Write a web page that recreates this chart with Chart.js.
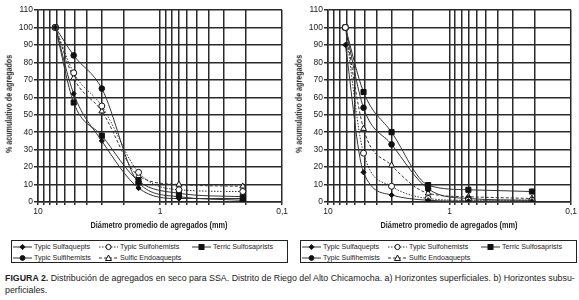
<!DOCTYPE html>
<html lang="es">
<head>
  <meta charset="UTF-8" />
  <meta name="viewport" content="width=device-width, initial-scale=1.0"/>
  <title>Distribución de agregados en seco</title>
  <script src="https://cdn.jsdelivr.net/npm/chart.js"></script>
  <style>
    body { margin: 0; background: #fff; font-family: "Liberation Sans", Arial, sans-serif; color: #222; }
    #page { position: relative; width: 579px; height: 300px; overflow: hidden; }
    .panel { position: absolute; top: 0; height: 235px; }
    .legend { position: absolute; top: 240px; height: 23px; border: 1px solid #222; box-sizing: border-box; }
    .item { position: absolute; font-size: 8px; line-height: 10px; white-space: nowrap; }
    .item svg { position: absolute; left: 0; top: 1px; }
    .item span { position: absolute; left: 21px; top: 0; transform-origin: 0 50%; }
    .axis-title { position: absolute; font-weight: bold; white-space: nowrap; line-height: 1; }
    .caption { position: absolute; left: 5px; top: 272px; font-size: 9.5px; line-height: 12px; white-space: nowrap; transform-origin: 0 0; }
  </style>
</head>
<body>
<div id="page">
  <canvas class="panel" id="chartA" width="290" height="235" style="left:0"></canvas>
  <canvas class="panel" id="chartB" width="289" height="235" style="left:290px"></canvas>
  <div class="legend" id="legendA" style="left:11px;width:277px"></div>
  <div class="legend" id="legendB" style="left:300px;width:277px"></div>
  <div class="caption" id="caption"><b>FIGURA 2.</b> Distribución de agregados en seco para SSA. Distrito de Riego del Alto Chicamocha. a) Horizontes superficiales. b) Horizontes subsu-<br>perficiales.</div>
</div>

<script>
  // diámetro promedio de cada fracción (mm)
  const diameters = [7.2, 5.1, 3.0, 1.5, 0.7, 0.21];

  // a) horizontes superficiales
  const sulfaqueptsA  = [100, 62, 35, 8, 2, 2];
  const sulfohemistsA = [100, 74, 55, 17, 7, 6];
  const terricA       = [100, 57, 38, 12, 5, 3];
  const sulfihemistsA = [100, 84, 65, 11, 3, 1];
  const endoaqueptsA  = [100, 71, 52, 15, 10, 9];

  // b) horizontes subsuperficiales
  const sulfaqueptsB  = [90, 17, 4, 1, 0.5, 0.5];
  const sulfohemistsB = [100, 28, 9, 2, 1, 1];
  const terricB       = [100, 63, 40, 9.7, 7, 6];
  const sulfihemistsB = [100, 54, 33, 7.5, 2, 1];
  const endoaqueptsB  = [100, 42, 21, 5, 3, 2];

  const seriesNames = ['Typic Sulfaquepts', 'Typic Sulfohemists', 'Terric Sulfosaprists', 'Typic Sulfihemists', 'Sulfic Endoaquepts'];
  const xGridValues = [10, 9, 8, 7, 6, 5, 4, 3, 2, 1, 0.9, 0.8, 0.7, 0.6, 0.5, 0.4, 0.3, 0.2, 0.1];
  const xTickLabels = { 10: '10', 1: '1', 0.1: '0,1' };
  const xTitle = 'Diámetro promedio de agregados (mm)';
  const yTitle = '% acumulativo de agregados';

  // marker / line look per series
  const looks = [
    { pointStyle: 'rectRot',  radius: 2.6, fill: '#111', dash: [] },
    { pointStyle: 'circle',   radius: 3,   fill: '#fff', dash: [1.5, 1.5] },
    { pointStyle: 'rect',     radius: 3.6, fill: '#111', dash: [] },
    { pointStyle: 'circle',   radius: 2.8, fill: '#111', dash: [] },
    { pointStyle: 'triangle', radius: 3.4, fill: '#fff', dash: [3, 2] }
  ];

  const gridColor = '#2a2a2a';
  const tickFont = { family: 'Liberation Sans, sans-serif', size: 8.5 };

  function makeChart(id, seriesValues) {
    const datasets = seriesValues.map((vals, i) => ({
      label: seriesNames[i],
      data: diameters.map((d, j) => ({ x: d, y: vals[j] })),
      borderColor: '#333',
      borderWidth: 1,
      borderDash: looks[i].dash,
      pointStyle: looks[i].pointStyle,
      pointRadius: looks[i].radius,
      pointBackgroundColor: looks[i].fill,
      pointBorderColor: '#111',
      pointBorderWidth: 1,
      cubicInterpolationMode: 'monotone',
      fill: false
    }));

    return new Chart(document.getElementById(id), {
      type: 'line',
      data: { datasets },
      options: {
        responsive: false,
        animation: false,
        layout: { padding: { top: 10, right: 7, left: 0, bottom: 0 } },
        plugins: { legend: { display: false }, tooltip: { enabled: false } },
        scales: {
          x: {
            type: 'logarithmic',
            reverse: true,
            min: 0.1,
            max: 10,
            grid: { color: gridColor, lineWidth: 1.5, tickLength: 3 },
            border: { color: gridColor, width: 1.5 },
            afterBuildTicks: (axis) => {
              axis.ticks = xGridValues.map(v => ({ value: v }));
            },
            ticks: {
              autoSkip: false,
              maxRotation: 0,
              padding: 2,
              color: '#222',
              font: tickFont,
              callback: (v) => xTickLabels[v] || ''
            },
            afterFit: (s) => { s.height = 33; }
          },
          y: {
            min: 0,
            max: 110,
            grid: { color: gridColor, lineWidth: 1.5, tickLength: 4 },
            border: { color: gridColor, width: 1.5 },
            ticks: { stepSize: 10, padding: 1, color: '#222', font: tickFont },
            afterFit: (s) => { s.width = 38; }
          }
        }
      }
    });
  }

  // axis titles as page text, narrowed to the condensed face of the figure
  function addTitle(text, cx, cy, size, targetWidth, vertical) {
    const el = document.createElement('div');
    el.className = 'axis-title';
    el.style.fontSize = size + 'px';
    el.textContent = text;
    document.getElementById('page').appendChild(el);
    const k = targetWidth / el.offsetWidth;
    el.style.left = cx + 'px';
    el.style.top = cy + 'px';
    el.style.transform = 'translate(-50%, -50%)' + (vertical ? ' rotate(-90deg)' : '') + ` scaleX(${k})`;
  }

  function legendIcon(look) {
    const dash = look.dash.length ? ` stroke-dasharray="${look.dash.join(' ')}"` : '';
    let mark = '';
    const c = 9.5, m = 4;
    if (look.pointStyle === 'circle') {
      mark = `<circle cx="${c}" cy="${m}" r="${look.fill === '#fff' ? 2.6 : 2.4}" fill="${look.fill}" stroke="#111" stroke-width="1"/>`;
    } else if (look.pointStyle === 'rect') {
      mark = `<rect x="${c - 3}" y="${m - 3}" width="6" height="6" fill="#111"/>`;
    } else if (look.pointStyle === 'rectRot') {
      mark = `<polygon points="${c},${m - 3} ${c + 3},${m} ${c},${m + 3} ${c - 3},${m}" fill="#111"/>`;
    } else {
      mark = `<polygon points="${c},${m - 3} ${c + 3},${m + 2.5} ${c - 3},${m + 2.5}" fill="#fff" stroke="#111" stroke-width="1"/>`;
    }
    return `<svg width="19" height="8"><line x1="0" y1="${m}" x2="19" y2="${m}" stroke="#333" stroke-width="1"${dash}/>${mark}</svg>`;
  }

  function buildLegend(id) {
    const cols = [1, 87, 180];
    const rows = [1, 12];
    const slots = [[0, 0], [1, 0], [2, 0], [0, 1], [1, 1]];
    const box = document.getElementById(id);
    const spans = [];
    seriesNames.forEach((name, i) => {
      const el = document.createElement('div');
      el.className = 'item';
      el.style.left = cols[slots[i][0]] + 'px';
      el.style.top = rows[slots[i][1]] + 'px';
      el.innerHTML = legendIcon(looks[i]) + '<span>' + name + '</span>';
      box.appendChild(el);
      spans.push(el.querySelector('span'));
    });
    // "Typic Sulfaquepts" is about 56px wide in the figure
    const k = 56 / spans[0].offsetWidth;
    spans.forEach(s => { s.style.transform = `scaleX(${k})`; });
  }

  makeChart('chartA', [sulfaqueptsA, sulfohemistsA, terricA, sulfihemistsA, endoaqueptsA]);
  makeChart('chartB', [sulfaqueptsB, sulfohemistsB, terricB, sulfihemistsB, endoaqueptsB]);
  buildLegend('legendA');
  buildLegend('legendB');

  addTitle(xTitle, 159, 225, 9, 137, false);
  addTitle(xTitle, 449, 225, 9, 137, false);
  addTitle(yTitle, 9, 104, 8.5, 98, true);
  addTitle(yTitle, 299, 104, 8.5, 98, true);

  // caption first line spans the page width
  const cap = document.getElementById('caption');
  const firstLine = document.createElement('span');
  firstLine.innerHTML = cap.innerHTML.split('<br>')[0];
  firstLine.style.cssText = 'position:absolute;visibility:hidden;white-space:nowrap;font-size:9.5px';
  document.body.appendChild(firstLine);
  cap.style.transform = `scaleX(${570 / firstLine.offsetWidth})`;
  firstLine.remove();
</script>
</body>
</html>
